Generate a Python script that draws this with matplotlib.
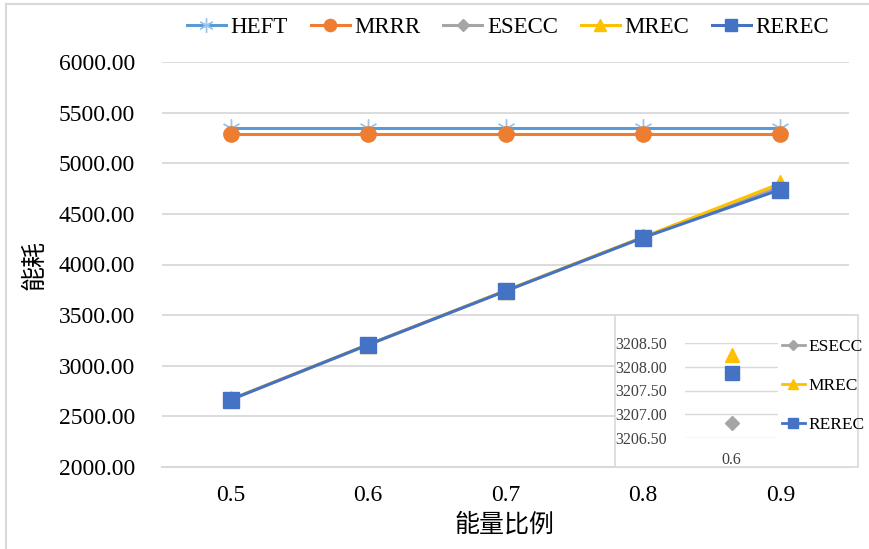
import matplotlib.pyplot as plt
import matplotlib.patches as patches
import numpy as np

plt.rcParams['font.family'] = ['Liberation Serif', 'Noto Sans CJK SC']

ratios = ['0.5', '0.6', '0.7', '0.8', '0.9']
heft = [5350, 5350, 5350, 5350, 5350]
mrrr = [5290, 5290, 5290, 5290, 5290]
esecc = [2666, 3206.82, 3740, 4267, 4768]
mrec = [2668, 3208.25, 3742, 4270, 4800]
rerec = [2665, 3207.87, 3738, 4265, 4740]
yticks = [2000, 2500, 3000, 3500, 4000, 4500, 5000, 5500, 6000]
inset_ticks = [3206.5, 3207.0, 3207.5, 3208.0, 3208.5]

grid_c = '#d9d9d9'
W, H = 869, 549
fig = plt.figure(figsize=(W / 100, H / 100), dpi=100)

def fx(px):
    return px / W

def fy(py):
    return 1 - py / H

# light frame of the chart area
fig.add_artist(plt.Line2D([fx(6), fx(6)], [0, fy(4)], color=grid_c, lw=1.5))
fig.add_artist(plt.Line2D([fx(6), 1], [fy(4), fy(4)], color=grid_c, lw=1.5))

ax = fig.add_axes([fx(162), fy(467), fx(849 - 162), (467 - 62) / H])
x = np.arange(len(ratios))

series = [
    ('HEFT', heft, '#5b9bd5', dict(marker=(6, 2, 0), markersize=13, markeredgecolor='#9dc3e6', markeredgewidth=1.0)),
    ('MRRR', mrrr, '#ed7d31', dict(marker='o', markersize=11, markeredgecolor='#ed7d31')),
    ('ESECC', esecc, '#a5a5a5', dict(marker='D', markersize=8, markeredgecolor='#a5a5a5')),
    ('MREC', mrec, '#ffc000', dict(marker='^', markersize=11, markeredgecolor='#ffc000')),
    ('REREC', rerec, '#4472c4', dict(marker='s', markersize=11, markeredgecolor='#4472c4')),
]
handles = []
for name, vals, col, mk in series:
    h, = ax.plot(x, vals, color=col, lw=2.2, label=name, **mk)
    handles.append(h)

ax.set_xlim(-0.5, len(ratios) - 0.5)
ax.set_ylim(2000, 6000)
ax.set_yticks(yticks)
ax.set_yticklabels([f'{v:.2f}' for v in yticks], fontsize=17)
ax.set_xticks(x)
ax.set_xticklabels(ratios, fontsize=17)
ax.tick_params(axis='y', length=0, pad=19.5)
ax.tick_params(axis='x', length=0, pad=13)
ax.grid(axis='y', color=grid_c, lw=1.3)
ax.set_axisbelow(True)
for s in ['top', 'right', 'left']:
    ax.spines[s].set_visible(False)
ax.spines['bottom'].set_color(grid_c)
ax.spines['bottom'].set_linewidth(1.5)

fig.text(fx(35), fy(265), '能耗', rotation=90, ha='center', va='center', fontsize=18)
fig.text(fx(505), fy(525), '能量比例', ha='center', va='center', fontsize=18)

fig.legend(handles=handles, loc='center', bbox_to_anchor=(fx(508), fy(27)), ncol=5,
           frameon=False, fontsize=16.5, handlelength=1.7, handletextpad=0.2,
           columnspacing=1.0, markerscale=0.8)

# zoomed inset around 0.6
box = patches.Rectangle((fx(615), fy(467)), fx(858 - 615), (467 - 315) / H,
                        transform=fig.transFigure, facecolor='white',
                        edgecolor=grid_c, lw=1.2, zorder=1)
fig.add_artist(box)

iax = fig.add_axes([fx(685), fy(438), fx(778 - 685), (438 - 343) / H], zorder=2)
iax.set_facecolor('none')
inset = [('ESECC', esecc[1], '#a5a5a5', 'D', 7),
         ('MREC', mrec[1], '#ffc000', '^', 10),
         ('REREC', rerec[1], '#4472c4', 's', 10)]
ihandles = []
for name, v, col, m, ms in inset:
    iax.plot([0], [v], linestyle='none', marker=m, markersize=ms, color=col)
    ihandles.append(plt.Line2D([], [], color=col, lw=2, marker=m, markersize=ms * 0.7, label=name))
iax.set_xlim(-0.5, 0.5)
iax.set_ylim(3206.5, 3208.5)
iax.set_yticks(inset_ticks)
iax.set_yticklabels([f'{v:.2f}' for v in inset_ticks], fontsize=11.5, color='#404040')
iax.set_xticks([0])
iax.set_xticklabels([ratios[1]], fontsize=11.5, color='#404040')
iax.tick_params(axis='y', length=0, pad=13)
iax.tick_params(axis='x', length=0, pad=10)
iax.grid(axis='y', color=grid_c, lw=1.0)
for s in iax.spines.values():
    s.set_visible(False)

fig.legend(handles=ihandles, loc='upper left', bbox_to_anchor=(fx(782), fy(339)),
           frameon=False, fontsize=12.5, handlelength=1.3, handletextpad=0.2,
           labelspacing=1.3, borderaxespad=0, borderpad=0)

fig.savefig('out.png', dpi=100)
